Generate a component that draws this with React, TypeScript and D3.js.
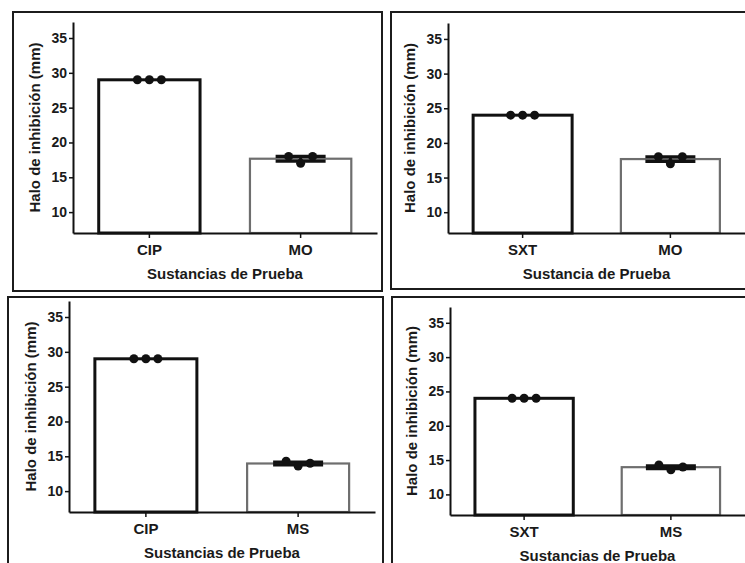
import React, { useEffect, useRef } from 'react'
import {
    select,
    scaleLinear,
    scaleBand,
    scalePoint,
    axisLeft,
    axisBottom,
    mean,
    deviation
} from 'd3'

// values (mm), three replicates each
const cipValues = [29, 29, 29]
const sxtValues = [24, 24, 24]
const moValues = [18, 17, 18]
const msValues = [14.3, 13.6, 14.0]

const replicates = ['r1', 'r2', 'r3']
const yTicks = [10, 15, 20, 25, 30, 35]
const yDomain = [7, 37.3]
const yTitle = 'Halo de inhibición (mm)'

const panelCategories = [['CIP', 'MO'], ['SXT', 'MO'], ['CIP', 'MS'], ['SXT', 'MS']]
const panelXTitles = ['Sustancias de Prueba', 'Sustancia de Prueba', 'Sustancias de Prueba', 'Sustancias de Prueba']

const valuesByCategory = { CIP: cipValues, SXT: sxtValues, MO: moValues, MS: msValues }
const controls = ['CIP', 'SXT']

// layout of each panel: frame box, x axis extent, y axis extent (pixels)
const layout = [
    { frame: [13, 12, 369, 279], x: [73, 377], y: [233, 22] },
    { frame: [391, 12, 370, 277], x: [448, 745], y: [233, 23] },
    { frame: [8, 297, 375, 280], x: [69, 375], y: [512, 301] },
    { frame: [392, 297, 370, 280], x: [450, 745], y: [515, 307] },
]

const W = 745
const H = 563
const font = "'Liberation Sans', Arial, sans-serif"

export default function App() {
    const svgRef = useRef()

    useEffect(() => {
        const svg = select(svgRef.current)
        svg.selectAll('*').remove()

        layout.forEach((lay, i) => {
            const cats = panelCategories[i]
            const g = svg.append('g')

            const [fx, fy, fw, fh] = lay.frame
            g.append('rect')
                .attr('x', fx).attr('y', fy)
                .attr('width', fw).attr('height', fh)
                .attr('fill', 'none')
                .attr('stroke', '#1c1c1c')
                .attr('stroke-width', 2)

            const x = scaleBand()
                .domain(cats)
                .range(lay.x)
                .paddingInner(0.33)
                .paddingOuter(0.17)
            const y = scaleLinear().domain(yDomain).range(lay.y)
            const jitter = scalePoint().domain(replicates).range([-12, 12])

            // bars
            cats.forEach(c => {
                const vals = valuesByCategory[c]
                const m = mean(vals)
                const sem = (deviation(vals) || 0) / Math.sqrt(vals.length)
                const isControl = controls.includes(c)
                const cx = x(c) + x.bandwidth() / 2

                g.append('rect')
                    .attr('x', x(c))
                    .attr('y', y(m))
                    .attr('width', x.bandwidth())
                    .attr('height', y(yDomain[0]) - y(m))
                    .attr('fill', '#fff')
                    .attr('stroke', isControl ? '#111' : '#6e6e6e')
                    .attr('stroke-width', isControl ? 3 : 2.2)

                if (sem > 0) {
                    g.append('line')
                        .attr('x1', cx).attr('x2', cx)
                        .attr('y1', y(m - sem)).attr('y2', y(m + sem))
                        .attr('stroke', '#111').attr('stroke-width', 3)
                    ;[m - sem, m + sem].forEach(v => {
                        g.append('line')
                            .attr('x1', cx - 25).attr('x2', cx + 25)
                            .attr('y1', y(v)).attr('y2', y(v))
                            .attr('stroke', '#111').attr('stroke-width', 3.2)
                    })
                }

                g.selectAll(null)
                    .data(vals)
                    .join('circle')
                    .attr('cx', (d, k) => cx + jitter(replicates[k]))
                    .attr('cy', d => y(d))
                    .attr('r', 4.5)
                    .attr('fill', '#111')
            })

            // axes
            const yAxis = axisLeft(y).tickValues(yTicks).tickSize(4).tickSizeOuter(0).tickPadding(2)
            const ya = g.append('g')
                .attr('transform', `translate(${lay.x[0]},0)`)
                .call(yAxis)
            const xAxis = axisBottom(x).tickSize(5).tickSizeOuter(0).tickPadding(4)
            const xa = g.append('g')
                .attr('transform', `translate(0,${lay.y[0]})`)
                .call(xAxis)

            ;[ya, xa].forEach(a => {
                a.select('.domain').attr('stroke', '#111').attr('stroke-width', 2)
                a.selectAll('.tick line').attr('stroke', '#111').attr('stroke-width', 1.5)
                a.selectAll('.tick text')
                    .attr('fill', '#1a1a1a')
                    .style('font-family', font)
                    .style('font-weight', 'bold')
            })
            ya.selectAll('.tick text').style('font-size', '14px')
            xa.selectAll('.tick text').style('font-size', '15px').attr('dy', '0.85em')

            // titles
            const yMid = (lay.y[0] + lay.y[1]) / 2
            g.append('text')
                .attr('transform', `translate(${lay.x[0] - 33},${yMid}) rotate(-90)`)
                .attr('text-anchor', 'middle')
                .attr('fill', '#1a1a1a')
                .style('font-family', font)
                .style('font-weight', 'bold')
                .style('font-size', '15px')
                .text(yTitle)

            g.append('text')
                .attr('x', (lay.x[0] + lay.x[1]) / 2)
                .attr('y', lay.y[0] + 46)
                .attr('text-anchor', 'middle')
                .attr('fill', '#1a1a1a')
                .style('font-family', font)
                .style('font-weight', 'bold')
                .style('font-size', '15px')
                .text(panelXTitles[i])
        })
    }, [])

    return (
        <svg
            ref={svgRef}
            width={W}
            height={H}
            style={{ position: 'absolute', left: 0, top: 0, background: '#fff', display: 'block' }}
        />
    )
}
